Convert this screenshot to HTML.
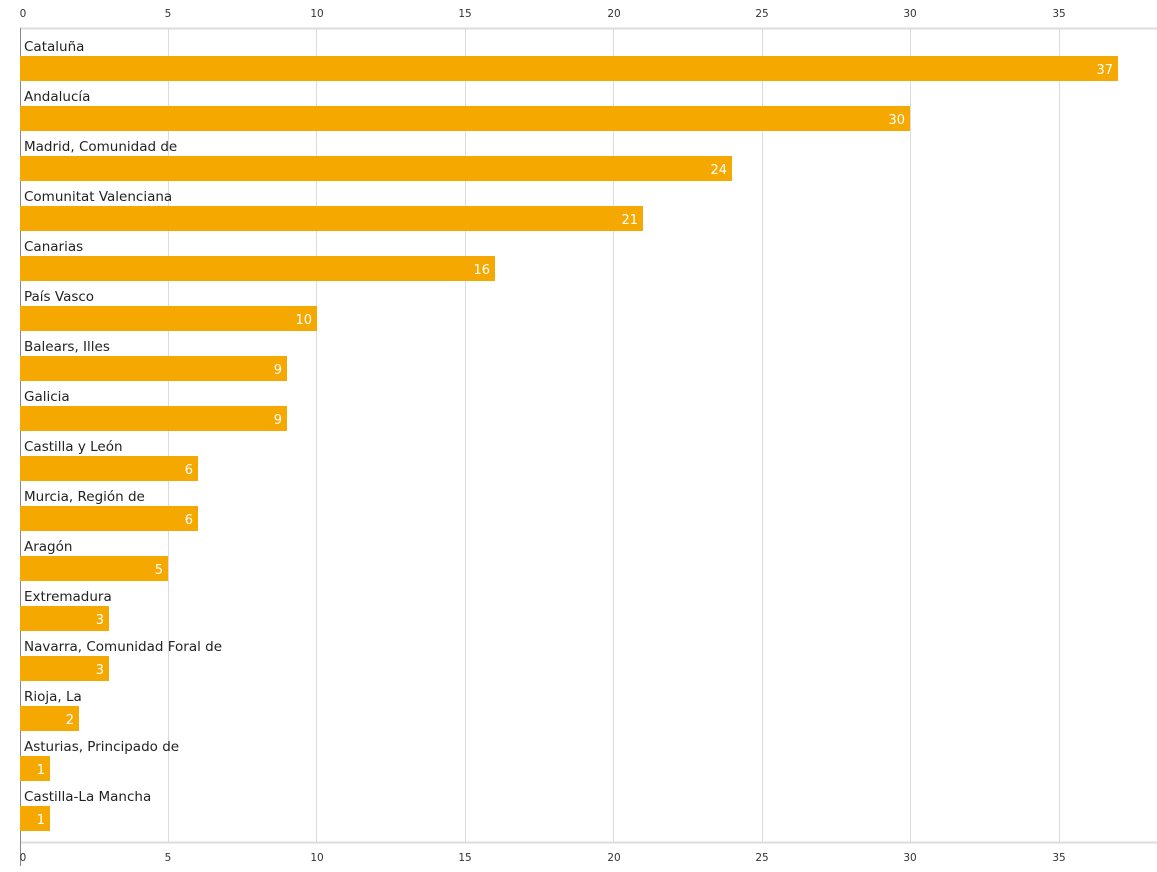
<!DOCTYPE html>
<html><head><meta charset="utf-8"><style>
html,body{margin:0;padding:0;background:#fff;}
svg{display:block;font-family:"DejaVu Sans","Liberation Sans",sans-serif;}
</style></head><body>
<svg width="1157" height="872" xmlns="http://www.w3.org/2000/svg">
<g stroke="#dcdcdc" stroke-width="1">
<line x1="168.5" y1="28" x2="168.5" y2="842"/>
<line x1="316.5" y1="28" x2="316.5" y2="842"/>
<line x1="465.5" y1="28" x2="465.5" y2="842"/>
<line x1="613.5" y1="28" x2="613.5" y2="842"/>
<line x1="762.5" y1="28" x2="762.5" y2="842"/>
<line x1="910.5" y1="28" x2="910.5" y2="842"/>
<line x1="1059.5" y1="28" x2="1059.5" y2="842"/>
<line x1="20" y1="28.5" x2="1157" y2="28.5" stroke-width="2"/>
<line x1="20" y1="842.5" x2="1157" y2="842.5" stroke-width="2"/>
</g>
<line x1="20.5" y1="28" x2="20.5" y2="866" stroke="#888" stroke-width="1"/>
<g font-size="10.5" fill="#333" text-anchor="middle">
<text x="23" y="17">0</text><text x="168" y="17">5</text><text x="317" y="17">10</text><text x="465" y="17">15</text><text x="614" y="17">20</text><text x="762" y="17">25</text><text x="910" y="17">30</text><text x="1059" y="17">35</text>
<text x="23" y="861">0</text><text x="168" y="861">5</text><text x="317" y="861">10</text><text x="465" y="861">15</text><text x="614" y="861">20</text><text x="762" y="861">25</text><text x="910" y="861">30</text><text x="1059" y="861">35</text>
</g>
<g fill="#f5a800">
<rect x="20" y="56" width="1098" height="25"/>
<rect x="20" y="106" width="890" height="25"/>
<rect x="20" y="156" width="712" height="25"/>
<rect x="20" y="206" width="623" height="25"/>
<rect x="20" y="256" width="475" height="25"/>
<rect x="20" y="306" width="297" height="25"/>
<rect x="20" y="356" width="267" height="25"/>
<rect x="20" y="406" width="267" height="25"/>
<rect x="20" y="456" width="178" height="25"/>
<rect x="20" y="506" width="178" height="25"/>
<rect x="20" y="556" width="148" height="25"/>
<rect x="20" y="606" width="89" height="25"/>
<rect x="20" y="656" width="89" height="25"/>
<rect x="20" y="706" width="59" height="25"/>
<rect x="20" y="756" width="30" height="25"/>
<rect x="20" y="806" width="30" height="25"/>
</g>
<g font-size="13.5" fill="#222">
<text x="24" y="51">Cataluña</text>
<text x="24" y="101">Andalucía</text>
<text x="24" y="151">Madrid, Comunidad de</text>
<text x="24" y="201">Comunitat Valenciana</text>
<text x="24" y="251">Canarias</text>
<text x="24" y="301">País Vasco</text>
<text x="24" y="351">Balears, Illes</text>
<text x="24" y="401">Galicia</text>
<text x="24" y="451">Castilla y León</text>
<text x="24" y="501">Murcia, Región de</text>
<text x="24" y="551">Aragón</text>
<text x="24" y="601">Extremadura</text>
<text x="24" y="651">Navarra, Comunidad Foral de</text>
<text x="24" y="701">Rioja, La</text>
<text x="24" y="751">Asturias, Principado de</text>
<text x="24" y="801">Castilla-La Mancha</text>
</g>
<g font-size="13" fill="#fff" text-anchor="end">
<text x="1113" y="74">37</text>
<text x="905" y="124">30</text>
<text x="727" y="174">24</text>
<text x="638" y="224">21</text>
<text x="490" y="274">16</text>
<text x="312" y="324">10</text>
<text x="282" y="374">9</text>
<text x="282" y="424">9</text>
<text x="193" y="474">6</text>
<text x="193" y="524">6</text>
<text x="163" y="574">5</text>
<text x="104" y="624">3</text>
<text x="104" y="674">3</text>
<text x="74" y="724">2</text>
<text x="45" y="774">1</text>
<text x="45" y="824">1</text>
</g>
</svg>
</body></html>
